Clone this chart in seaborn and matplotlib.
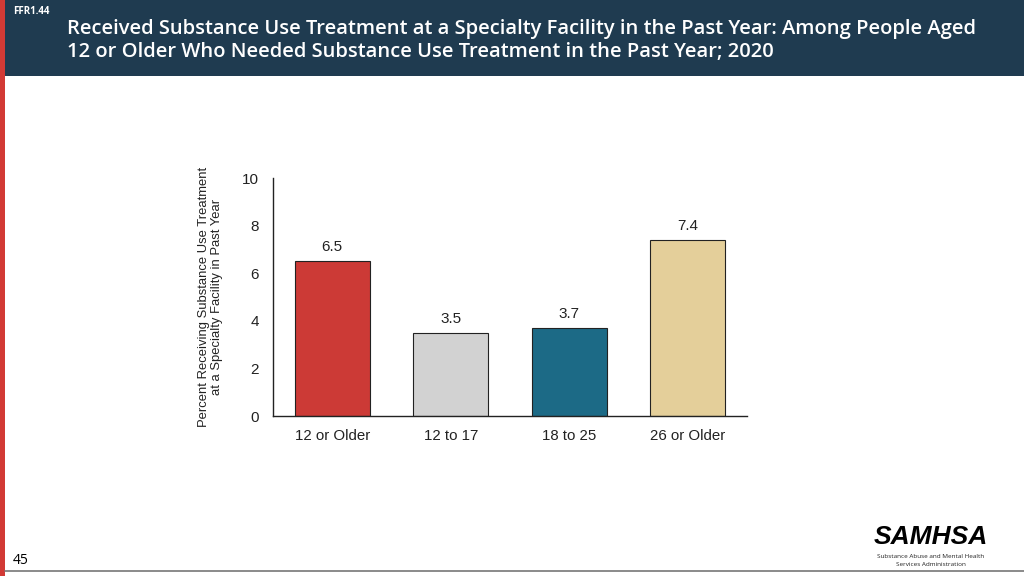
import matplotlib
matplotlib.use("Agg")
import matplotlib.pyplot as plt
import seaborn as sns
import pandas as pd
from matplotlib.patches import Rectangle

categories = ["12 or Older", "12 to 17", "18 to 25", "26 or Older"]
values = [6.5, 3.5, 3.7, 7.4]
bar_colors = ["#cc3a36", "#d2d2d2", "#1c6a86", "#e4cf9a"]
yticks = [0, 2, 4, 6, 8, 10]

sns.set_theme(style="white")
narrow = ["Liberation Sans Narrow", "Liberation Sans", "DejaVu Sans"]
plt.rcParams["font.family"] = narrow

fig = plt.figure(figsize=(10.24, 5.76), dpi=100)
fig.patch.set_facecolor("white")

# header band
fig.add_artist(Rectangle((0, 1 - 76 / 576), 1, 76 / 576, transform=fig.transFigure,
                         facecolor="#1f3b50", edgecolor="none", zorder=0))
# left red strip
fig.add_artist(Rectangle((0, 0), 5 / 1024, 1, transform=fig.transFigure,
                         facecolor="#d23a35", edgecolor="none", zorder=1))
# bottom line
fig.add_artist(plt.Line2D([5 / 1024, 1], [1 - 571 / 576, 1 - 571 / 576], transform=fig.transFigure,
                          color="#777777", lw=1.2))

title_font = ["Open Sans", "DejaVu Sans"]
fig.text(13 / 1024, 1 - 12 / 576, "FFR1.44", color="white", fontsize=7, fontweight="bold",
         family=title_font, va="center", ha="left")
fig.text(67 / 1024, 1 - 29 / 576, "Received Substance Use Treatment at a Specialty Facility in the Past Year: Among People Aged",
         color="white", fontsize=14.5, family=title_font, va="center", ha="left", fontweight="semibold")
fig.text(67 / 1024, 1 - 52 / 576, "12 or Older Who Needed Substance Use Treatment in the Past Year; 2020",
         color="white", fontsize=14.5, family=title_font, va="center", ha="left", fontweight="semibold")
fig.text(13 / 1024, 1 - 560 / 576, "45", color="black", fontsize=10, family=title_font,
         va="center", ha="left")

# SAMHSA logo text
fig.text(931 / 1024, 1 - 537 / 576, "SAMHSA", color="black", fontsize=19, fontweight="bold",
         fontstyle="italic", family=["Liberation Sans", "DejaVu Sans"], va="center", ha="center")
fig.text(931 / 1024, 1 - 556 / 576, "Substance Abuse and Mental Health", color="#222222", fontsize=4.6,
         family=title_font, va="center", ha="center")
fig.text(931 / 1024, 1 - 564 / 576, "Services Administration", color="#222222", fontsize=4.6,
         family=title_font, va="center", ha="center")

ax = fig.add_axes([273 / 1024, 1 - 416 / 576, 474 / 1024, 238 / 576])
df = pd.DataFrame({"cat": categories, "val": values})
sns.barplot(data=df, x="cat", y="val", hue="cat", palette=bar_colors, legend=False,
            width=0.63, edgecolor="#222222", linewidth=0.8, ax=ax, saturation=1)
ax.set_xlim(-0.5, 3.5)
ax.set_ylim(0, 10)
ax.set_yticks(yticks)
ax.set_yticklabels([str(t) for t in yticks], fontsize=11)
ax.tick_params(axis="x", labelsize=10.8, length=0, pad=9, colors="#222222")
ax.tick_params(axis="y", length=0, pad=10, colors="#222222")
ax.set_xlabel("")
ax.set_ylabel("Percent Receiving Substance Use Treatment\nat a Specialty Facility in Past Year",
              fontsize=9.4, labelpad=14, linespacing=1.05, color="#222222")
for s in ["top", "right"]:
    ax.spines[s].set_visible(False)
for s in ["left", "bottom"]:
    ax.spines[s].set_color("#222222")
    ax.spines[s].set_linewidth(1.0)
for i, v in enumerate(values):
    ax.text(i, v + 0.3, f"{v:.1f}", ha="center", va="bottom", fontsize=11, color="#222222")

fig.savefig("out.png", dpi=100, facecolor="white")
